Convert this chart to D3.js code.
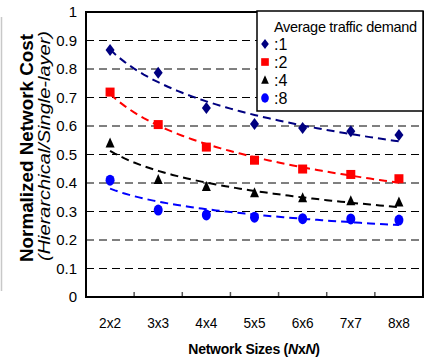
<!DOCTYPE html>
<html>
<head>
<meta charset="utf-8">
<script src="https://cdn.jsdelivr.net/npm/d3@7"></script>
<style>
  body { margin: 0; background: #fff; }
  svg { display: block; font-family: Arial, "Liberation Sans", sans-serif; }
</style>
</head>
<body>
<div id="chart"></div>
<script>
// 数据
const sizes = ["2x2", "3x3", "4x4", "5x5", "6x6", "7x7", "8x8"];
const demand1 = [0.867, 0.787, 0.663, 0.607, 0.593, 0.582, 0.568];
const demand2 = [0.719, 0.605, 0.526, 0.480, 0.449, 0.430, 0.415];
const demand4 = [0.540, 0.412, 0.388, 0.366, 0.348, 0.338, 0.333];
const demand8 = [0.410, 0.305, 0.288, 0.280, 0.275, 0.274, 0.270];
const seriesNames = [":1", ":2", ":4", ":8"];
const yTicks = [0, 0.1, 0.2, 0.3, 0.4, 0.5, 0.6, 0.7, 0.8, 0.9, 1];

const series = [
    { name: seriesNames[0], values: demand1, color: "#000080", shape: "diamond" },
    { name: seriesNames[1], values: demand2, color: "#ff0000", shape: "square" },
    { name: seriesNames[2], values: demand4, color: "#000000", shape: "triangle" },
    { name: seriesNames[3], values: demand8, color: "#0000ff", shape: "circle" }
];

const margin = { top: 12, right: 2, bottom: 63, left: 86 };
const width = 425 - margin.left - margin.right;
const height = 360 - margin.top - margin.bottom;

const root = d3.select("#chart")
    .append("svg")
    .attr("width", 425)
    .attr("height", 360);

// 左侧浅灰竖线
root.append("line")
    .attr("x1", 1.5).attr("x2", 1.5)
    .attr("y1", 17).attr("y2", 291)
    .attr("stroke", "#c8c8c8")
    .attr("stroke-width", 1.5);

const svg = root.append("g")
    .attr("transform", `translate(${margin.left},${margin.top})`);

const x = d3.scaleBand().domain(sizes).range([0, width]).padding(0);
const y = d3.scaleLinear().domain([0, 1]).range([height, 0]);
// 趋势线用的连续比例尺 (索引 1..7)
const xi = d3.scaleLinear()
    .domain([1, sizes.length])
    .range([x(sizes[0]) + x.bandwidth() / 2, x(sizes[sizes.length - 1]) + x.bandwidth() / 2]);

// 网格线
svg.append("g")
    .selectAll("line")
    .data(yTicks.filter(d => d > 0 && d < 1))
    .enter()
    .append("line")
    .attr("x1", 0)
    .attr("x2", width)
    .attr("y1", d => y(d))
    .attr("y2", d => y(d))
    .attr("stroke", "#000")
    .attr("stroke-width", 1)
    .attr("stroke-dasharray", "8,5");

// Y 轴
const yAxis = svg.append("g")
    .call(d3.axisLeft(y).tickValues(yTicks).tickSize(0).tickPadding(9)
        .tickFormat(d => (d === 0 || d === 1) ? String(d) : d.toFixed(1)));
yAxis.select(".domain").remove();
yAxis.selectAll("text")
    .attr("font-size", "15px")
    .attr("font-family", "Arial, 'Liberation Sans', sans-serif")
    .attr("fill", "#000");

// X 轴
const xAxis = svg.append("g")
    .attr("transform", `translate(0,${height})`)
    .call(d3.axisBottom(x).tickSize(0).tickPadding(20));
xAxis.select(".domain").remove();
xAxis.selectAll("text")
    .attr("font-size", "15px")
    .attr("font-family", "Arial, 'Liberation Sans', sans-serif")
    .attr("fill", "#000")
    .attr("textLength", 22)
    .attr("lengthAdjust", "spacingAndGlyphs");

// X 轴小刻度
svg.append("g")
    .selectAll("line")
    .data(sizes.slice(1))
    .enter()
    .append("line")
    .attr("x1", d => x(d))
    .attr("x2", d => x(d))
    .attr("y1", height)
    .attr("y2", height - 5)
    .attr("stroke", "#555")
    .attr("stroke-width", 1.5);

// 对数趋势线 (最小二乘拟合)
function logFit(values) {
    const xs = values.map((d, i) => Math.log(i + 1));
    const mx = d3.mean(xs);
    const my = d3.mean(values);
    let num = 0, den = 0;
    xs.forEach((v, i) => {
        num += (v - mx) * (values[i] - my);
        den += (v - mx) * (v - mx);
    });
    const b = num / den;
    const a = my - b * mx;
    return t => a + b * Math.log(t);
}

const line = d3.line().x(d => xi(d[0])).y(d => y(d[1]));
series.forEach(s => {
    const f = logFit(s.values);
    const pts = d3.range(1, sizes.length + 0.001, 0.1).map(t => [t, f(t)]);
    svg.append("path")
        .datum(pts)
        .attr("fill", "none")
        .attr("stroke", s.color)
        .attr("stroke-width", 2)
        .attr("stroke-dasharray", "8,5")
        .attr("d", line);
});

// 标记
function drawMarker(g, shape, color, scale) {
    const k = scale || 1;
    if (shape === "diamond") {
        g.append("path")
            .attr("d", `M0,${-6 * k}L${4.5 * k},0L0,${6 * k}L${-4.5 * k},0Z`)
            .attr("fill", color);
    } else if (shape === "square") {
        g.append("rect")
            .attr("x", -4.5 * k).attr("y", -4.5 * k)
            .attr("width", 9 * k).attr("height", 9 * k)
            .attr("fill", color);
    } else if (shape === "triangle") {
        g.append("path")
            .attr("d", `M0,${-5.5 * k}L${4.5 * k},${4.5 * k}L${-4.5 * k},${4.5 * k}Z`)
            .attr("fill", color);
    } else {
        g.append("ellipse")
            .attr("rx", 4.5 * k).attr("ry", 5.5 * k)
            .attr("fill", color);
    }
}

series.forEach(s => {
    s.values.forEach((v, i) => {
        const g = svg.append("g")
            .attr("transform", `translate(${x(sizes[i]) + x.bandwidth() / 2},${y(v)})`);
        drawMarker(g, s.shape, s.color, 1);
    });
});

// 边框
svg.append("rect")
    .attr("width", width)
    .attr("height", height)
    .attr("fill", "none")
    .attr("stroke", "#000")
    .attr("stroke-width", 2);

// 图例
const legend = root.append("g").attr("class", "legend");
legend.append("rect")
    .attr("x", 257).attr("y", 11)
    .attr("width", 166).attr("height", 100)
    .attr("fill", "#fff")
    .attr("stroke", "#000")
    .attr("stroke-width", 1.5);
legend.append("text")
    .attr("x", 274).attr("y", 32)
    .attr("font-size", "14.5px")
    .attr("letter-spacing", "-0.3px")
    .text("Average traffic demand");

series.forEach((s, i) => {
    const cy = 44 + i * 18;
    const g = legend.append("g").attr("transform", `translate(265,${cy})`);
    drawMarker(g, s.shape, s.color, 0.85);
    legend.append("text")
        .attr("x", 274)
        .attr("y", cy + 6)
        .attr("font-size", "16px")
        .text(s.name);
});

// 坐标轴标题
root.append("text")
    .attr("transform", "rotate(-90)")
    .attr("x", -148)
    .attr("y", 33)
    .attr("text-anchor", "middle")
    .attr("font-size", "18px")
    .attr("font-weight", "bold")
    .attr("textLength", 228)
    .attr("lengthAdjust", "spacingAndGlyphs")
    .text("Normalized Network Cost");

root.append("text")
    .attr("transform", "rotate(-90)")
    .attr("x", -146)
    .attr("y", 50)
    .attr("text-anchor", "middle")
    .attr("font-size", "17px")
    .attr("font-style", "italic")
    .attr("textLength", 230)
    .attr("lengthAdjust", "spacingAndGlyphs")
    .text("(Hierarchical/Single-layer)");

const xTitle = root.append("text")
    .attr("x", 254)
    .attr("y", 354)
    .attr("text-anchor", "middle")
    .attr("font-size", "14px")
    .attr("font-weight", "bold")
    .attr("letter-spacing", "-0.25px");
xTitle.append("tspan").text("Network Sizes (");
xTitle.append("tspan").attr("font-style", "italic").text("N");
xTitle.append("tspan").text("x");
xTitle.append("tspan").attr("font-style", "italic").text("N");
xTitle.append("tspan").text(")");
</script>
</body>
</html>
